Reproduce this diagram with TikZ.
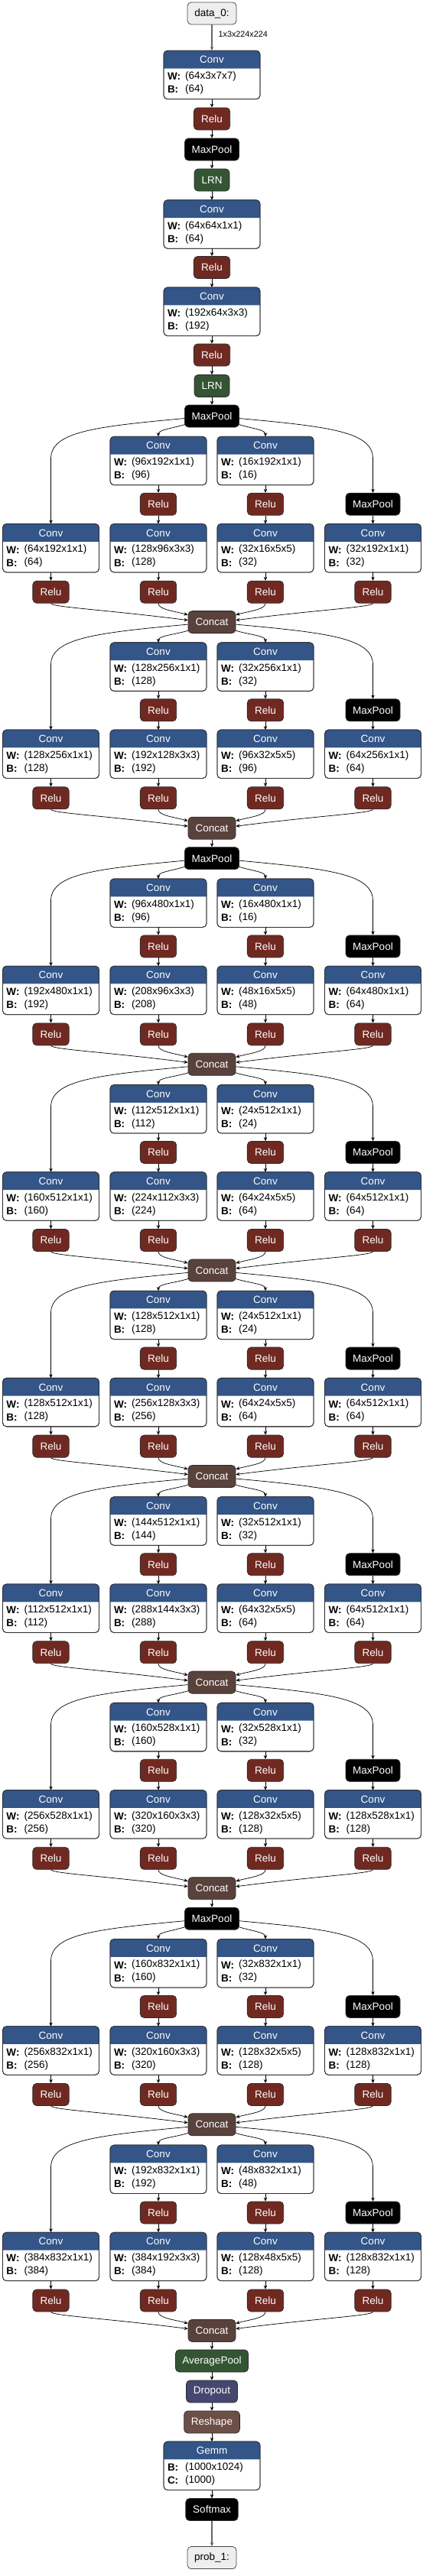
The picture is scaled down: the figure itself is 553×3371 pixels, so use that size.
\documentclass[tikz,border=0pt]{standalone}
\usepackage{fontspec}
\setmainfont{Liberation Sans}
\usetikzlibrary{arrows.meta,calc}
\definecolor{convblue}{RGB}{51,85,136}
\definecolor{relucol}{RGB}{112,41,33}
\definecolor{normcol}{RGB}{51,85,51}
\definecolor{catcol}{RGB}{89,66,59}
\definecolor{shapecol}{RGB}{108,79,71}
\definecolor{dropcol}{RGB}{69,71,112}
\definecolor{iocol}{RGB}{238,238,238}
\definecolor{bordcol}{RGB}{45,45,45}
\tikzset{
  txt/.style={font=\fontsize{13.5}{16}\selectfont},
  base/.style={txt, rounded corners=5pt, draw=bordcol, line width=0.8pt, minimum height=29pt, inner sep=0pt, text=white},
  relu/.style={base, fill=relucol, minimum width=47.3pt},
  mpool/.style={base, fill=black, minimum width=71pt},
  lrn/.style={base, fill=normcol, minimum width=46pt},
  cat/.style={base, fill=catcol, minimum width=62pt},
  avg/.style={base, fill=normcol, minimum width=95pt},
  drop/.style={base, fill=dropcol, minimum width=67pt},
  resh/.style={base, fill=shapecol, minimum width=72.7pt},
  soft/.style={base, fill=black, minimum width=68.4pt},
  io/.style={base, fill=iocol, text=black, draw=black!70, minimum width=64pt},
  convbox/.style={rounded corners=5pt, draw=bordcol, line width=0.8pt, fill=white, minimum width=126pt, minimum height=63.5pt, inner sep=0pt, outer sep=0pt},
  ctitle/.style={txt, text=white, inner sep=0pt},
  attr/.style={txt, text=black, anchor=west, inner sep=0pt},
  edge/.style={draw=black, line width=0.7pt, -{Stealth[length=5pt,width=4.5pt]}},
  iedge/.style={draw=black!60, line width=1.3pt, -{Stealth[length=5pt,width=4.5pt]}},
  elabel/.style={font=\fontsize{10.8}{12}\selectfont, text=black, inner sep=0pt}
}
\newcommand\opbox[8]{%
  \node[convbox] (#1) at (#2,#3) {};
  \fill[convblue] ($(#1.north west)+(0,23.3)$) [rounded corners=5pt] -- (#1.north west) -- (#1.north east) [sharp corners] -- ($(#1.north east)+(0,23.3)$) -- cycle;
  \draw[bordcol, line width=0.8pt, rounded corners=5pt] (#1.south west) rectangle (#1.north east);
  \node[ctitle] at ($(#1.north)+(0,12)$) {#4};
  \node[attr] at ($(#1.north west)+(4.8,34)$) {\textbf{#5:}};
  \node[attr] at ($(#1.north west)+(28,34)$) {(#6)};
  \node[attr] at ($(#1.north west)+(4.8,51)$) {\textbf{#7:}};
  \node[attr] at ($(#1.north west)+(28,51)$) {(#8)};
}
\newcommand\cv[5]{\opbox{#1}{#2}{#3}{Conv}{W}{#4}{B}{#5}}
\newcommand\blkpos[1]{%
  \pgfmathsetmacro\ya{#1+58.5}%
  \pgfmathsetmacro\yr{#1+115.2}%
  \pgfmathsetmacro\yb{#1+172.7}%
  \pgfmathsetmacro\ys{#1+230.2}%
  \pgfmathsetmacro\yc{#1+269.6}}
\newcommand\incep[2]{%
  \node[relu] (#1q2) at (207,\yr) {Relu};
  \node[relu] (#1q3) at (347,\yr) {Relu};
  \node[mpool] (#1mp) at (487.5,\yr) {MaxPool};
  \node[relu] (#1r1) at (66.5,\ys) {Relu};
  \node[relu] (#1r2) at (207,\ys) {Relu};
  \node[relu] (#1r3) at (347,\ys) {Relu};
  \node[relu] (#1r4) at (487.5,\ys) {Relu};
  \node[cat] (#1cat) at (277,\yc) {Concat};
  \draw[edge] ($(#2.west)+(0,3)$) .. controls +(-120,11) and +(0,-35) .. ($(#1c1.north)+(0,-85)$) -- (#1c1.north);
  \draw[edge] ($(#2.south west)+(1,-4)$) .. controls +(-20,6) and +(0,-9) .. (#1p2.north);
  \draw[edge] ($(#2.south east)+(-1,-4)$) .. controls +(20,6) and +(0,-9) .. (#1p3.north);
  \draw[edge] ($(#2.east)+(0,3)$) .. controls +(120,11) and +(0,-35) .. ($(#1mp.north)+(0,-44.5)$) -- (#1mp.north);
  \draw[edge] (#1p2) -- (#1q2);
  \draw[edge] (#1q2) -- (#1c2);
  \draw[edge] (#1p3) -- (#1q3);
  \draw[edge] (#1q3) -- (#1c3);
  \draw[edge] (#1mp) -- (#1c4);
  \draw[edge] (#1c1) -- (#1r1);
  \draw[edge] (#1c2) -- (#1r2);
  \draw[edge] (#1c3) -- (#1r3);
  \draw[edge] (#1c4) -- (#1r4);
  \draw[edge] (#1r1.south) .. controls +(2,5) and +(-110,-14) .. ($(#1cat.west)+(0,-2.5)$);
  \draw[edge] (#1r2.south) .. controls +(0,8) and +(-18,-5) .. ($(#1cat.west)+(0,-9.5)$);
  \draw[edge] (#1r3.south) .. controls +(0,8) and +(18,-5) .. ($(#1cat.east)+(0,-9.5)$);
  \draw[edge] (#1r4.south) .. controls +(-2,5) and +(110,-14) .. ($(#1cat.east)+(0,-2.5)$);
}
\begin{document}
\begin{tikzpicture}[x=1pt,y=-1pt]
\useasboundingbox[fill=white] (0,0) rectangle (553,3371);
% stem
\node[io] (d0) at (277,17.5) {data\_0:};
\cv{cv1}{277}{98}{64x3x7x7}{64}
\node[relu] (re1) at (277,155.5) {Relu};
\node[mpool] (mp1) at (277,195.5) {MaxPool};
\node[lrn] (lrn1) at (277,235.5) {LRN};
\cv{cv2}{277}{293.5}{64x64x1x1}{64}
\node[relu] (re2) at (277,350) {Relu};
\cv{cv3}{277}{407.75}{192x64x3x3}{192}
\node[relu] (re3) at (277,464.5) {Relu};
\node[lrn] (lrn2) at (277,505) {LRN};
\node[mpool] (mp2) at (277,544.5) {MaxPool};
\draw[iedge] (d0) -- node[elabel, midway, anchor=west, xshift=8pt, yshift=5pt] {1x3x224x224} (cv1);
\draw[edge] (cv1) -- (re1);
\draw[edge] (re1) -- (mp1);
\draw[edge] (mp1) -- (lrn1);
\draw[edge] (lrn1) -- (cv2);
\draw[edge] (cv2) -- (re2);
\draw[edge] (re2) -- (cv3);
\draw[edge] (cv3) -- (re3);
\draw[edge] (re3) -- (lrn2);
\draw[edge] (lrn2) -- (mp2);
% inception 3a
\blkpos{544.5}
\cv{a3p2}{207}{\ya}{96x192x1x1}{96}
\cv{a3p3}{347}{\ya}{16x192x1x1}{16}
\cv{a3c1}{66.5}{\yb}{64x192x1x1}{64}
\cv{a3c2}{207}{\yb}{128x96x3x3}{128}
\cv{a3c3}{347}{\yb}{32x16x5x5}{32}
\cv{a3c4}{487.5}{\yb}{32x192x1x1}{32}
\incep{a3}{mp2}
% inception 3b
\blkpos{814.1}
\cv{b3p2}{207}{\ya}{128x256x1x1}{128}
\cv{b3p3}{347}{\ya}{32x256x1x1}{32}
\cv{b3c1}{66.5}{\yb}{128x256x1x1}{128}
\cv{b3c2}{207}{\yb}{192x128x3x3}{192}
\cv{b3c3}{347}{\yb}{96x32x5x5}{96}
\cv{b3c4}{487.5}{\yb}{64x256x1x1}{64}
\incep{b3}{a3cat}
\node[mpool] (mp3) at (277,1123.2) {MaxPool};
\draw[edge] (b3cat) -- (mp3);
% inception 4a
\blkpos{1123.2}
\cv{a4p2}{207}{\ya}{96x480x1x1}{96}
\cv{a4p3}{347}{\ya}{16x480x1x1}{16}
\cv{a4c1}{66.5}{\yb}{192x480x1x1}{192}
\cv{a4c2}{207}{\yb}{208x96x3x3}{208}
\cv{a4c3}{347}{\yb}{48x16x5x5}{48}
\cv{a4c4}{487.5}{\yb}{64x480x1x1}{64}
\incep{a4}{mp3}
% inception 4b
\blkpos{1392.8}
\cv{b4p2}{207}{\ya}{112x512x1x1}{112}
\cv{b4p3}{347}{\ya}{24x512x1x1}{24}
\cv{b4c1}{66.5}{\yb}{160x512x1x1}{160}
\cv{b4c2}{207}{\yb}{224x112x3x3}{224}
\cv{b4c3}{347}{\yb}{64x24x5x5}{64}
\cv{b4c4}{487.5}{\yb}{64x512x1x1}{64}
\incep{b4}{a4cat}
% inception 4c
\blkpos{1662.4}
\cv{c4p2}{207}{\ya}{128x512x1x1}{128}
\cv{c4p3}{347}{\ya}{24x512x1x1}{24}
\cv{c4c1}{66.5}{\yb}{128x512x1x1}{128}
\cv{c4c2}{207}{\yb}{256x128x3x3}{256}
\cv{c4c3}{347}{\yb}{64x24x5x5}{64}
\cv{c4c4}{487.5}{\yb}{64x512x1x1}{64}
\incep{c4}{b4cat}
% inception 4d
\blkpos{1932}
\cv{d4p2}{207}{\ya}{144x512x1x1}{144}
\cv{d4p3}{347}{\ya}{32x512x1x1}{32}
\cv{d4c1}{66.5}{\yb}{112x512x1x1}{112}
\cv{d4c2}{207}{\yb}{288x144x3x3}{288}
\cv{d4c3}{347}{\yb}{64x32x5x5}{64}
\cv{d4c4}{487.5}{\yb}{64x512x1x1}{64}
\incep{d4}{c4cat}
% inception 4e
\blkpos{2201.6}
\cv{e4p2}{207}{\ya}{160x528x1x1}{160}
\cv{e4p3}{347}{\ya}{32x528x1x1}{32}
\cv{e4c1}{66.5}{\yb}{256x528x1x1}{256}
\cv{e4c2}{207}{\yb}{320x160x3x3}{320}
\cv{e4c3}{347}{\yb}{128x32x5x5}{128}
\cv{e4c4}{487.5}{\yb}{128x528x1x1}{128}
\incep{e4}{d4cat}
\node[mpool] (mp4) at (277,2510.7) {MaxPool};
\draw[edge] (e4cat) -- (mp4);
% inception 5a
\blkpos{2510.7}
\cv{a5p2}{207}{\ya}{160x832x1x1}{160}
\cv{a5p3}{347}{\ya}{32x832x1x1}{32}
\cv{a5c1}{66.5}{\yb}{256x832x1x1}{256}
\cv{a5c2}{207}{\yb}{320x160x3x3}{320}
\cv{a5c3}{347}{\yb}{128x32x5x5}{128}
\cv{a5c4}{487.5}{\yb}{128x832x1x1}{128}
\incep{a5}{mp4}
% inception 5b
\blkpos{2780.3}
\cv{b5p2}{207}{\ya}{192x832x1x1}{192}
\cv{b5p3}{347}{\ya}{48x832x1x1}{48}
\cv{b5c1}{66.5}{\yb}{384x832x1x1}{384}
\cv{b5c2}{207}{\yb}{384x192x3x3}{384}
\cv{b5c3}{347}{\yb}{128x48x5x5}{128}
\cv{b5c4}{487.5}{\yb}{128x832x1x1}{128}
\incep{b5}{a5cat}
% head
\node[avg] (avg) at (277,3089.5) {AveragePool};
\node[drop] (drop) at (277,3129.5) {Dropout};
\node[resh] (resh) at (277,3169.5) {Reshape};
\opbox{gemm}{277}{3226.75}{Gemm}{B}{1000x1024}{C}{1000}
\node[soft] (soft) at (277,3284) {Softmax};
\node[io] (prob) at (277,3347) {prob\_1:};
\draw[edge] (b5cat) -- (avg);
\draw[edge] (avg) -- (drop);
\draw[edge] (drop) -- (resh);
\draw[edge] (resh) -- (gemm);
\draw[edge] (gemm) -- (soft);
\draw[iedge] (soft) -- (prob);
\end{tikzpicture}
\end{document}
